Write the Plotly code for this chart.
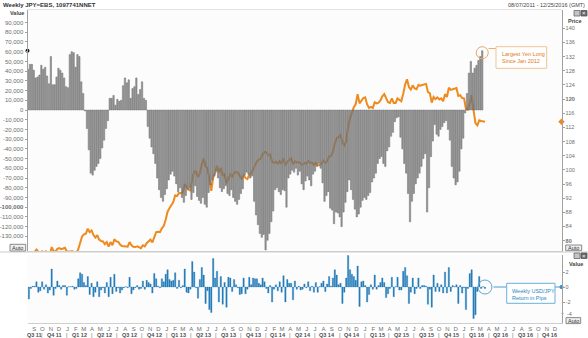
import pandas as pd
import plotly.graph_objects as go

# ---------------------------------------------------------------- data
# JPY non-commercial net position (thousands of contracts), weekly from 2011-08-09
net_long_2011 = [42, 47, 47, 41, 33, 34, 36, 46, 42, 44, 35, 27, 55, 26, 26,
                 34, 43, 41, 38, 33, 24, 23, 57, 60, 59, 44, 57, 55, 29, 17]
net_short_2012 = [-1, -19, -41, -65, -67, -62, -58, -55, -50, -39, -31, -19, -11]
net_long_2012 = [12, 12, 15, 5, 11, 9, 10, 25, 33, 28, 31, 12, 22, 24, 33, 16,
                 21, 29, 12, 10]
net_short_2013 = [-17, -29, -38, -45, -55, -70, -82, -90, -94, -87, -81, -72,
                  -66, -63, -68, -76, -84, -80, -90, -95, -88, -82, -80, -92,
                  -85, -78, -89, -93, -96, -90, -97, -100, -85, -77, -72, -68,
                  -63, -70, -80, -84, -81, -78, -86, -88, -82, -90, -94, -97,
                  -92, -86, -81, -67, -64, -66, -70, -68, -94, -108, -118, -127,
                  -131, -128, -144, -134, -127, -115, -104, -82, -80, -84, -87,
                  -82, -83, -100, -70, -66, -62, -64, -60, -67, -63, -76, -82,
                  -73, -68]
net_short_2015 = [-72, -78, -66, -63, -58, -55, -60, -75, -94, -88, -84, -101,
                  -103, -117, -105, -106, -110, -120, -105, -95, -84, -72, -82,
                  -92, -102, -110, -107, -100, -93, -90, -92, -88, -85, -74, -70,
                  -65, -55, -50, -48, -55, -58, -42, -38, -27, -23, -12, -8, -7,
                  -28, -40, -55, -65, -86, -115, -94, -86, -76, -70, -65, -58,
                  -50, -45, -105, -80, -48, -32, -15, -25, -27, -20, -17, -13,
                  -11, -20, -31, -58, -70, -77, -74, -63, -40, -29, -3]
net_long_2016 = [17, 38, 50, 38, 43, 46, 51, 55, 61]

net_position_k = (net_long_2011 + net_short_2012 + net_long_2012 +
                  net_short_2013 + net_short_2015 + net_long_2016)
net_position = [v * 1000 for v in net_position_k]

# USD/JPY weekly close, from 2011-08-12
usd_jpy = [76.8, 76.6, 76.7, 76.8, 77.5, 76.8, 76.3, 77.0, 76.7, 77.0,
           76.2, 75.8, 78.2, 77.1, 76.9, 77.7, 77.9, 77.6, 77.8, 78.0,
           76.9, 76.9, 76.9, 77.0, 76.7, 76.5, 77.6, 79.5, 81.2, 81.8,
           82.0, 83.4, 82.4, 82.9, 81.6, 80.9, 81.6, 80.3, 79.9, 79.8,
           79.0, 79.6, 78.3, 79.6, 78.7, 80.4, 79.8, 79.7, 78.9, 78.5,
           78.4, 78.4, 78.3, 79.6, 78.7, 78.3, 78.2, 78.4, 78.1, 77.9,
           78.7, 78.4, 79.3, 79.9, 80.3, 79.5, 81.3, 82.4, 82.5, 82.4,
           83.5, 84.2, 85.9, 88.2, 89.2, 90.0, 90.9, 92.8, 92.6, 93.5,
           93.4, 93.6, 96.0, 95.3, 94.5, 94.2, 97.6, 99.6, 99.5, 98.0,
           99.0, 101.6, 103.2, 101.0, 100.5, 97.5, 94.1, 97.9, 99.1, 101.2,
           99.2, 100.6, 98.3, 98.9, 96.2, 97.5, 98.7, 98.1, 99.1, 99.4,
           99.3, 98.3, 97.4, 98.6, 97.7, 97.4, 98.7, 99.0, 100.2, 101.3,
           102.4, 102.9, 103.2, 104.4, 105.1, 104.9, 104.1, 104.3, 102.3, 102.0,
           102.3, 101.8, 102.5, 101.8, 103.3, 101.3, 102.3, 102.8, 103.3, 101.6,
           102.4, 102.1, 102.2, 101.8, 101.5, 101.9, 101.8, 102.5, 102.0, 102.1,
           101.4, 102.0, 101.3, 101.3, 101.8, 102.6, 102.0, 102.4, 103.8, 103.9,
           105.1, 107.4, 109.0, 109.3, 109.8, 107.6, 106.9, 108.1, 112.3, 114.6,
           116.3, 117.7, 118.6, 121.4, 118.8, 119.5, 120.3, 120.5, 118.5, 117.5,
           117.8, 117.5, 119.1, 118.8, 119.0, 119.6, 120.8, 121.4, 120.0, 119.1,
           118.9, 120.2, 118.9, 118.9, 120.2, 119.8, 119.4, 121.5, 124.1, 125.6,
           123.4, 122.7, 123.9, 123.0, 122.8, 124.0, 123.8, 124.0, 124.2, 124.3,
           122.0, 121.7, 119.0, 120.6, 120.0, 120.5, 119.9, 120.2, 119.4, 121.4,
           120.6, 123.2, 122.6, 122.8, 122.8, 123.1, 120.9, 121.1, 120.3, 120.2,
           117.2, 117.0, 118.8, 121.1, 116.9, 113.2, 112.6, 114.0, 113.8, 113.8,
           113.6]

# Weekly USD/JPY return, same weeks as the close series
weekly_return = [-1.6, -0.2, 0.1, 0.1, 0.7, -0.7, -0.5, 0.7, -0.3, 0.3,
                 -0.8, -0.4, 2.4, -1.1, -0.2, 0.8, 0.2, -0.3, 0.2, 0.2,
                 -1.1, 0.05, 0.05, 0.1, -0.3, -0.2, 1.1, 1.9, 1.7, 0.6,
                 0.2, 1.4, -1.0, 0.5, -1.3, -0.7, 0.7, -1.3, -0.4, -0.1,
                 -0.8, 0.6, -1.3, 1.3, -0.9, 1.7, -0.6, -0.1, -0.8, -0.4,
                 -0.1, 0.05, -0.1, 1.3, -0.9, -0.4, -0.1, 0.2, -0.3, -0.2,
                 0.8, -0.3, 0.9, 0.6, 0.4, -0.8, 1.8, 1.1, 0.1, -0.1,
                 1.1, 0.7, 1.7, 2.3, 1.0, 0.8, 0.9, 1.9, -0.2, 0.9,
                 -0.1, 0.2, 2.4, -0.7, -0.8, -0.3, 3.4, 2.0, -0.1, -1.5,
                 1.0, 2.6, 1.6, -2.2, -0.5, -3.0, -3.4, 3.8, 1.2, 2.1,
                 -2.0, 1.4, -2.3, 0.6, -2.7, 1.3, 1.2, -0.6, 1.0, 0.3,
                 -0.1, -1.0, -0.9, 1.2, -0.9, -0.3, 1.3, 0.3, 1.2, 1.1,
                 1.1, 0.5, 0.3, 1.2, 0.7, -0.2, -0.8, 0.2, -2.0, -0.3,
                 0.3, -0.5, 0.7, -0.7, 1.5, -2.0, 1.0, 0.5, 0.5, -1.7,
                 0.8, -0.3, 0.1, -0.4, -0.3, 0.4, -0.1, 0.7, -0.5, 0.1,
                 -0.7, 0.6, -0.7, 0.05, 0.5, 0.8, -0.6, 0.4, 1.4, 0.1,
                 1.2, 2.3, 1.6, 0.3, 0.5, -2.2, -0.7, 1.2, 4.2, 2.3,
                 1.7, 1.4, 0.9, 2.8, -2.6, 0.7, 0.8, 0.2, -2.0, -1.0,
                 0.3, -0.3, 1.6, -0.3, 0.2, 0.6, 1.2, 0.6, -1.4, -0.9,
                 -0.2, 1.3, -1.3, 0.05, 1.3, -0.4, -0.4, 2.1, 2.6, 1.5,
                 -2.2, -0.7, 1.2, -0.9, -0.2, 1.2, -0.2, 0.2, 0.2, 0.1,
                 -2.3, -0.3, -2.7, 1.6, -0.6, 0.5, -0.6, 0.3, -0.8, 2.0,
                 -0.8, 2.6, -0.6, 0.2, 0.05, 0.3, -2.2, 0.2, -0.8, -0.1,
                 -3.0, -0.2, 1.8, 2.3, -4.2, -3.7, -0.6, 1.4, -0.2, 0.05,
                 -0.2]

value_ticks = list(range(-130000, 90001, 10000))
price_ticks = list(range(80, 141, 4))
return_ticks = [-2, 0, 2]
return_low_tick = -4
month_letters = list("JFMAMJJASOND")

# ---------------------------------------------------------------- helpers
W, H = 588, 338
START, END = pd.Timestamp("2011-08-07"), pd.Timestamp("2016-12-25")


def px(x):
    return x / W


def py(y):
    return 1 - y / H


pos_dates = pd.date_range("2011-08-09", periods=len(net_position), freq="7D")
px_dates = pd.date_range("2011-08-12", periods=len(usd_jpy), freq="7D")
ret_dates = pd.date_range("2011-08-12", periods=len(weekly_return), freq="7D")

ORANGE = "#EE8A1E"
BLUE = "#2383C3"
GREY_TXT = "#6e6e6e"
FONT = "Liberation Sans"
DAY_MS = 86400000

fig = go.Figure()

# USD/JPY price line (drawn underneath the position bars)
fig.add_trace(go.Scatter(
    x=px_dates, y=usd_jpy, xaxis="x", yaxis="y", mode="lines",
    line=dict(color=ORANGE, width=2), hoverinfo="skip"))

# net positioning bars
fig.add_trace(go.Bar(
    x=pos_dates, y=net_position, xaxis="x", yaxis="y2",
    width=5 * DAY_MS, opacity=0.9,
    marker=dict(color="#8c8c8c", line=dict(color="#5e5e5e", width=0.5)),
    hoverinfo="skip"))

# weekly return bars
fig.add_trace(go.Bar(
    x=ret_dates, y=weekly_return, xaxis="x2", yaxis="y3",
    width=5 * DAY_MS,
    marker=dict(color=BLUE, line=dict(color="#1b6aa3", width=0.3)),
    hoverinfo="skip"))

# last-value markers on the axes
fig.add_trace(go.Scatter(
    x=[END], y=[usd_jpy[-1]], xaxis="x", yaxis="y", mode="markers",
    marker=dict(symbol="diamond", size=5, color=ORANGE),
    cliponaxis=False, hoverinfo="skip"))
fig.add_trace(go.Scatter(
    x=[START], y=[net_position[-1]], xaxis="x", yaxis="y2", mode="markers",
    marker=dict(symbol="circle", size=4, color="#111111"),
    cliponaxis=False, hoverinfo="skip"))
fig.add_trace(go.Scatter(
    x=[END], y=[0], xaxis="x2", yaxis="y3", mode="markers",
    marker=dict(symbol="circle", size=4, color=BLUE),
    cliponaxis=False, hoverinfo="skip"))

# ---------------------------------------------------------------- axes
x_dom = [px(27.5), px(561.5)]
month_starts = pd.date_range("2011-09-01", "2016-12-01", freq="MS")

value_text = [("<b>-100,000</b>" if v == -100000 else f"{v:,}") for v in value_ticks]
price_text = [(f"<b>{p}</b>" if p in (80, 120) else str(p)) for p in price_ticks]

common_y = dict(showgrid=False, zeroline=False, showline=True, linecolor="#a0a0a0",
                linewidth=1, ticks="outside", ticklen=2, tickcolor="#a0a0a0")

fig.update_layout(
    width=W, height=H, margin=dict(l=0, r=0, t=0, b=0),
    paper_bgcolor="white", plot_bgcolor="#fcfcfc",
    showlegend=False, barmode="overlay",
    font=dict(family=FONT, color=GREY_TXT, size=6),
    xaxis=dict(domain=x_dom, type="date", range=[START, END], anchor="y",
               showticklabels=False, showgrid=False, zeroline=False,
               showline=True, linecolor="#cfcfcf", ticks=""),
    yaxis=dict(domain=[py(251), py(10)], anchor="x", side="right",
               range=[77.09, 145.17], tickvals=price_ticks, ticktext=price_text,
               tickfont=dict(size=5.5, color=GREY_TXT), **common_y),
    yaxis2=dict(overlaying="y", anchor="x", side="left",
                range=[-145060, 102880], tickvals=value_ticks, ticktext=value_text,
                tickfont=dict(size=6, color=GREY_TXT), **common_y),
    xaxis2=dict(domain=x_dom, type="date", range=[START, END], anchor="y3",
                matches="x", tickvals=month_starts,
                ticktext=[month_letters[d.month - 1] for d in month_starts],
                tickangle=0, tickfont=dict(size=6, color=GREY_TXT),
                showgrid=False, zeroline=False, showline=True,
                linecolor="#cfcfcf", ticks=""),
    yaxis3=dict(domain=[py(323), py(255)], anchor="x2", side="right",
                range=[-4.8, 4.27], tickvals=return_ticks,
                ticktext=[str(t) for t in return_ticks],
                tickfont=dict(size=5.5, color=GREY_TXT), **common_y),
)

# ---------------------------------------------------------------- text & decorations
ann = []
shapes = []

# quarter labels under the month initials
quarters = pd.period_range("2011Q3", "2016Q4", freq="Q")
for k, q in enumerate(quarters):
    qs = max(q.start_time, START)
    qe = min(q.end_time.normalize(), END)
    mid = qs + (qe - qs) / 2
    ann.append(dict(x=mid, xref="x2", y=py(334.5), yref="paper",
                    text=f"<b>Q{q.quarter} {q.year % 100:02d}</b>", showarrow=False,
                    font=dict(size=5.5, color="#505050"), xanchor="center",
                    yanchor="middle"))
    if k > 0:
        ann.append(dict(x=q.start_time, xref="x2", y=py(334.5), yref="paper",
                        text="|", showarrow=False,
                        font=dict(size=6, color="#707070"), xanchor="center",
                        yanchor="middle"))

# lowest return tick label sits just above the "Auto" button
ann.append(dict(x=px(565), y=py(313.5), xref="paper", yref="paper", showarrow=False,
                text=str(return_low_tick), xanchor="left", yanchor="middle",
                font=dict(size=5.5, color=GREY_TXT)))

# headers and axis titles
ann += [
    dict(x=px(1), y=py(4.5), xref="paper", yref="paper", showarrow=False,
         text="<b>Weekly JPY=EBS, 1097741NNET</b>", xanchor="left", yanchor="middle",
         font=dict(size=6, color="#333333")),
    dict(x=px(587), y=py(4.5), xref="paper", yref="paper", showarrow=False,
         text="08/07/2011 - 12/25/2016 (GMT)", xanchor="right", yanchor="middle",
         font=dict(size=5.5, color="#444444")),
    dict(x=px(25.5), y=py(12.5), xref="paper", yref="paper", showarrow=False,
         text="<b>Value</b>", xanchor="right", yanchor="middle",
         font=dict(size=5.5, color="#444444")),
    dict(x=px(565.5), y=py(20.5), xref="paper", yref="paper", showarrow=False,
         text="<b>Price</b>", xanchor="left", yanchor="middle",
         font=dict(size=5.5, color="#444444")),
    dict(x=px(566.5), y=py(263.5), xref="paper", yref="paper", showarrow=False,
         text="<b>Value</b>", xanchor="left", yanchor="middle",
         font=dict(size=5.5, color="#444444")),
]

# callout: yen long
ann.append(dict(x=px(500), y=py(57.5), xref="paper", yref="paper", showarrow=False,
                text="Largest Yen Long<br>Since Jan 2012", align="left",
                xanchor="left", yanchor="middle",
                font=dict(size=5.5, color="#E07A14")))
shapes += [
    dict(type="line", xref="paper", yref="paper", x0=px(488.5), x1=px(496),
         y0=py(48.5), y1=py(48.5), line=dict(color="#EBB070", width=1)),
    dict(type="rect", xref="paper", yref="paper", x0=px(496), x1=px(546.7),
         y0=py(68.3), y1=py(46.7), line=dict(color="#F0C490", width=1),
         fillcolor="rgba(255,255,255,0.9)"),
    dict(type="circle", xref="x", yref="y2", xsizemode="pixel", ysizemode="pixel",
         xanchor=pos_dates[-1], yanchor=net_position[-1], x0=-6, x1=6, y0=-8, y1=4,
         line=dict(color="#E8A860", width=1)),
]

# callout: weekly return
shapes += [
    dict(type="line", xref="paper", yref="y3", x0=px(493.5), x1=px(562),
         y0=0, y1=0, line=dict(color="#4A9CCF", width=1)),
    dict(type="rect", xref="paper", yref="paper", x0=px(506.7), x1=px(555),
         y0=py(303.3), y1=py(283.3), line=dict(color="#6AB0DA", width=1),
         fillcolor="white"),
    dict(type="circle", xref="x2", yref="y3", xsizemode="pixel", ysizemode="pixel",
         xanchor=ret_dates[-1], yanchor=0, x0=-7, x1=7, y0=-7, y1=7,
         line=dict(color="#5BA7D6", width=1)),
]
ann.append(dict(x=px(510), y=py(294), xref="paper", yref="paper", showarrow=False,
                text="Weekly USD/JPY<br>Return in Pips", align="left",
                xanchor="left", yanchor="middle",
                font=dict(size=5.5, color="#2A86C0")))

# panel separator and frame lines
shapes += [
    dict(type="line", xref="paper", yref="paper", x0=0, x1=1, y0=py(252), y1=py(252),
         line=dict(color="#cccccc", width=1)),
    dict(type="line", xref="paper", yref="paper", x0=px(27.5), x1=px(561.5),
         y0=py(9.5), y1=py(9.5), line=dict(color="#e2e2e2", width=1)),
    dict(type="line", xref="paper", yref="paper", x0=px(561.5), x1=px(563.5),
         y0=py(313.5), y1=py(313.5), line=dict(color="#a0a0a0", width=1)),
]

# "Auto" buttons
for (x0, x1, y0, y1) in [(10, 25.7, 244.3, 251), (565.7, 581.7, 245, 250.7),
                         (566, 580.7, 317.6, 323.6)]:
    shapes.append(dict(type="rect", xref="paper", yref="paper", x0=px(x0), x1=px(x1),
                       y0=py(y1), y1=py(y0), line=dict(color="#8a8a8a", width=1),
                       fillcolor="#efefef"))
    ann.append(dict(x=px((x0 + x1) / 2), y=py((y0 + y1) / 2), xref="paper",
                    yref="paper", showarrow=False, text="Auto", xanchor="center",
                    yanchor="middle", font=dict(size=5.5, color="#333333")))

# window buttons
for ytop in (10.5, 253):
    shapes += [
        dict(type="rect", xref="paper", yref="paper", x0=px(574), x1=px(580),
             y0=py(ytop + 5.5), y1=py(ytop), line=dict(color="#6a6a6a", width=0.8),
             fillcolor="#c4c4c4"),
        dict(type="rect", xref="paper", yref="paper", x0=px(581), x1=px(587),
             y0=py(ytop + 5.5), y1=py(ytop), line=dict(color="#555555", width=0.8),
             fillcolor="#6a6a6a"),
    ]
    ann.append(dict(x=px(584), y=py(ytop + 2.8), xref="paper", yref="paper",
                    showarrow=False, text="×", xanchor="center", yanchor="middle",
                    font=dict(size=6, color="white")))

fig.update_layout(annotations=ann, shapes=shapes)

fig.write_html("out.html")
